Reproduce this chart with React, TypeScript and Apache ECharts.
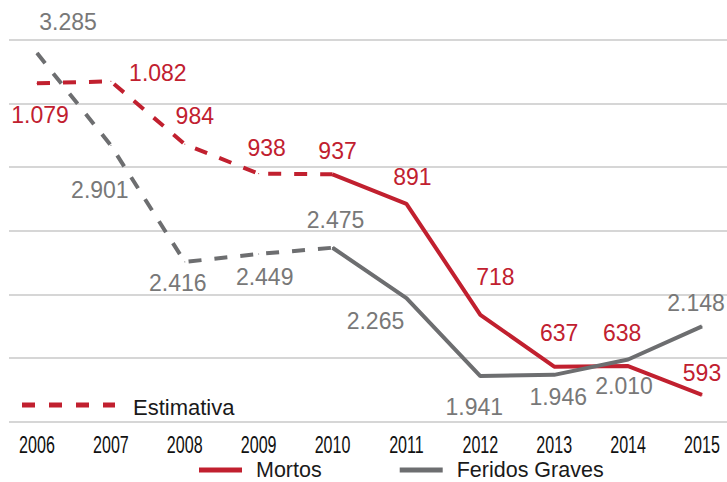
import React, { useEffect, useRef } from "react";
import * as echarts from "echarts";

const years = ["2006", "2007", "2008", "2009", "2010", "2011", "2012", "2013", "2014", "2015"];
const mortos = [1079, 1082, 984, 938, 937, 891, 718, 637, 638, 593];
const feridos = [3285, 2901, 2416, 2449, 2475, 2265, 1941, 1946, 2010, 2148];
const estimateEnd = 4; // index of 2010: dashed up to here
// label offsets (presentation only)
const mortosOffsets: number[][] = [[3, 32], [47, -8], [10, -28], [8, -26], [5, -23], [6, -27], [15, -38], [5, -34], [-6, -33], [0, -22]];
const feridosOffsets: number[][] = [[31, -31], [-11, 45], [-7, 21], [6, 23], [3, -28], [-31, 23], [-6, 31], [4, 22], [-4, 27], [-6, -23]];

const RED = "#c1202f";
const GRAY = "#6d6e70";
const GRAY_TXT = "#787878";
const GRID = "#c8c8c8";
const FONT = "'Liberation Sans', Arial, sans-serif";

const fmt = (v: number) => {
  const s = String(Math.round(v));
  return s.length > 3 ? s.slice(0, s.length - 3) + "." + s.slice(s.length - 3) : s;
};

function part(values: number[], offsets: number[][], dashed: boolean) {
  return values.map((v, i) => {
    const inPart = dashed ? i <= estimateEnd : i >= estimateEnd;
    if (!inPart) return null;
    const showLabel = dashed ? i <= estimateEnd : i > estimateEnd;
    return { value: v, label: { show: showLabel, offset: offsets[i] } };
  });
}

export default function App() {
  const ref = useRef<HTMLDivElement>(null);
  useEffect(() => {
    if (!ref.current) return;
    const chart = echarts.init(ref.current, null, { renderer: "svg" });
    const top = 40;
    const bottom = 60.3;
    const mkSeries = (name: string, values: number[], offsets: number[][], dashed: boolean, color: string, txt: string, yIdx: number) => ({
      name,
      type: "line",
      xAxisIndex: 0,
      yAxisIndex: yIdx,
      data: part(values, offsets, dashed),
      symbol: "circle",
      symbolSize: 1,
      showSymbol: true,
      itemStyle: { color },
      lineStyle: { color, width: 4, type: dashed ? [13, 13] : "solid", cap: "butt" },
      label: {
        show: true,
        position: "inside",
        color: txt,
        fontSize: 23,
        fontFamily: FONT,
        formatter: (p: any) => fmt(p.value),
      },
      emphasis: { disabled: true },
    });
    const baseGraphic: any[] = [
      {
        type: "line",
        shape: { x1: 22, y1: 405, x2: 115, y2: 405 },
        style: { stroke: RED, lineWidth: 5, lineDash: [13, 14] },
      },
      {
        type: "text",
        x: 133,
        y: 407,
        style: { text: "Estimativa", fontSize: 22, fontFamily: FONT, fill: "#1a1a1a", verticalAlign: "middle" },
      },
    ];
    chart.setOption({
      animation: false,
      grid: [
        { left: 37, right: 25, top, bottom },
        { left: 9, right: 0, top, bottom },
      ],
      xAxis: [
        {
          type: "category",
          gridIndex: 0,
          data: years,
          boundaryGap: false,
          axisLine: { show: false },
          axisTick: { show: false },
          axisLabel: { show: false },
        },
        { type: "value", gridIndex: 1, show: false, min: 0, max: 1 },
      ],
      yAxis: [
        { type: "value", gridIndex: 0, min: 551.3, max: 1146.4, show: false, splitLine: { show: false } },
        { type: "value", gridIndex: 0, min: 1751, max: 3339.6, show: false, splitLine: { show: false } },
        {
          type: "value",
          gridIndex: 1,
          min: 0,
          max: 6,
          interval: 1,
          axisLabel: { show: false },
          axisLine: { show: false },
          axisTick: { show: false },
          splitLine: { show: true, lineStyle: { color: GRID, width: 1.6 } },
        },
      ],
      legend: {
        data: ["Mortos", "Feridos Graves"],
        left: 199,
        top: 459,
        padding: 0,
        icon: "rect",
        itemWidth: 43,
        itemHeight: 5,
        itemGap: 78,
        selectedMode: false,
        textStyle: { fontSize: 21.5, color: "#1a1a1a", fontFamily: FONT, padding: [0, 0, 0, 9] },
      },
      graphic: baseGraphic,
      series: [
        mkSeries("Mortos (estimativa)", mortos, mortosOffsets, true, RED, RED, 0),
        mkSeries("Mortos", mortos, mortosOffsets, false, RED, RED, 0),
        mkSeries("Feridos Graves (estimativa)", feridos, feridosOffsets, true, GRAY, GRAY_TXT, 1),
        mkSeries("Feridos Graves", feridos, feridosOffsets, false, GRAY, GRAY_TXT, 1),
      ],
    });
    // condensed year labels placed through the category axis scale
    const yearLabels = years.map((yr) => {
      const px = chart.convertToPixel({ xAxisIndex: 0 }, yr) as number;
      return {
        type: "text",
        x: px,
        y: 445,
        scaleX: 0.7,
        style: {
          text: yr,
          fontSize: 23,
          fontFamily: FONT,
          fill: "#111",
          align: "center",
          verticalAlign: "middle",
        },
      };
    });
    chart.setOption({ graphic: [...baseGraphic, ...yearLabels] });
    return () => chart.dispose();
  }, []);
  return <div ref={ref} style={{ width: 727, height: 482, position: "absolute", left: 0, top: 0 }} />;
}
